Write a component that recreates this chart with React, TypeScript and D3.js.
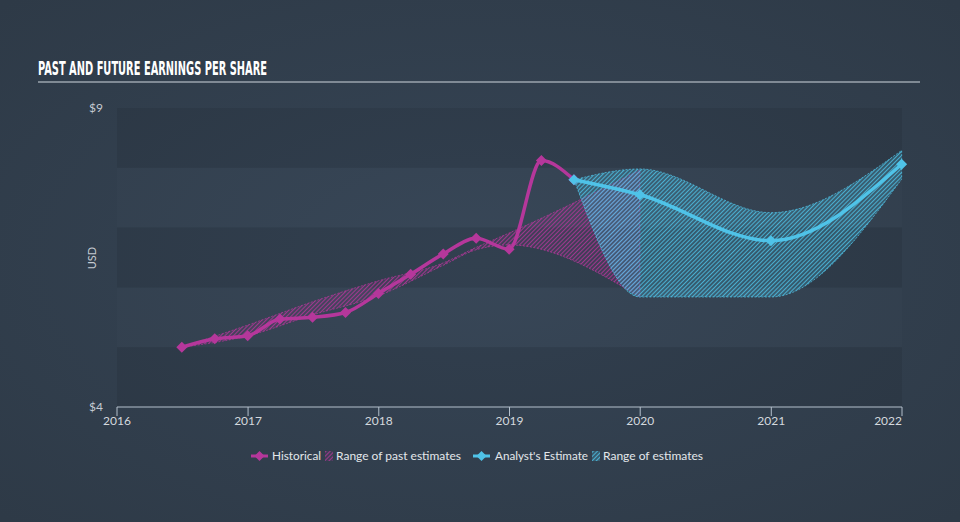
import React from "react";
import * as d3 from "d3";

const histDates = ["2016-06-30","2016-09-30","2016-12-31","2017-03-31","2017-06-30","2017-09-30","2017-12-31","2018-03-31","2018-06-30","2018-09-30","2018-12-31","2019-03-31","2019-06-30"];
const histValues = [5.0,5.14,5.19,5.47,5.5,5.58,5.9,6.22,6.56,6.82,6.64,8.12,7.8];

const pastRangeDates = ["2016-06-30","2016-12-31","2017-06-30","2017-12-31","2018-06-30","2018-09-30","2018-12-31","2019-12-31"];
const pastRangeLow = [5.0,5.19,5.54,5.86,6.37,6.63,6.71,5.84];
const pastRangeHigh = [5.0,5.37,5.76,6.11,6.41,6.67,6.91,7.96];

const estDates = ["2019-06-30","2019-12-31","2020-12-31","2021-12-31"];
const estValues = [7.8,7.55,6.78,8.06];
const estLow = [7.8,5.84,5.84,7.81];
const estHigh = [7.8,7.98,7.25,8.29];

const xTickYears = [2016,2017,2018,2019,2020,2021,2022];
const yTicks = [4,9];

const MAGENTA = "#b5379b";
const CYAN = "#4fc3e8";

const pd = (s: string) => new Date(s + "T00:00:00");

export default function App() {
  const x = d3.scaleTime().domain([new Date(2016,0,1), new Date(2022,0,1)]).range([117, 902]);
  const y = d3.scaleLinear().domain([4, 9]).range([407, 108]);

  const hist = histDates.map((d, i) => ({ d: pd(d), v: histValues[i] }));
  const past = pastRangeDates.map((d, i) => ({ d: pd(d), lo: pastRangeLow[i], hi: pastRangeHigh[i] }));
  const est = estDates.map((d, i) => ({ d: pd(d), v: estValues[i], lo: estLow[i], hi: estHigh[i] }));

  const line = d3.line<{ d: Date; v: number }>().x(p => x(p.d)).y(p => y(p.v)).curve(d3.curveMonotoneX);
  const area = d3.area<{ d: Date; lo: number; hi: number }>().x(p => x(p.d)).y0(p => y(p.lo)).y1(p => y(p.hi)).curve(d3.curveMonotoneX);

  const diamond = (cx: number, cy: number, r: number) => `M${cx},${cy - r}L${cx + r},${cy}L${cx},${cy + r}L${cx - r},${cy}Z`;

  const bands: number[][] = [];
  for (let v = 9; v > 4; v--) bands.push([v, v - 1]);

  return (
    <svg width={960} height={522} style={{ position: "absolute", left: 0, top: 0 }}>
      <defs>
        <radialGradient id="bg" cx="50%" cy="50%" r="70%">
          <stop offset="0%" stopColor="#364556" />
          <stop offset="100%" stopColor="#2e3a47" />
        </radialGradient>
        <pattern id="hatchM" patternUnits="userSpaceOnUse" width="3" height="3" patternTransform="rotate(45)">
          <rect x="0" y="0" width="3" height="3" fill={MAGENTA} fillOpacity="0.12" />
          <line x1="0.5" y1="0" x2="0.5" y2="3" stroke={MAGENTA} strokeWidth="1" strokeOpacity="0.8" />
        </pattern>
        <pattern id="hatchC" patternUnits="userSpaceOnUse" width="3" height="3" patternTransform="rotate(45)">
          <rect x="0" y="0" width="3" height="3" fill={CYAN} fillOpacity="0.22" />
          <line x1="0.5" y1="0" x2="0.5" y2="3" stroke={CYAN} strokeWidth="1" strokeOpacity="0.8" />
        </pattern>
      </defs>
      <rect x={0} y={0} width={960} height={522} fill="url(#bg)" />
      {bands.map((b, i) => (
        <rect key={i} x={117} y={y(b[0])} width={902 - 117} height={y(b[1]) - y(b[0])}
          fill={i % 2 === 0 ? "rgba(0,0,0,0.07)" : "rgba(255,255,255,0.01)"} />
      ))}
      <text x={38} y={75} fill="#ffffff" fontFamily="'DejaVu Sans Condensed', 'DejaVu Sans'" fontWeight="bold" fontSize={20}
        textLength={229} lengthAdjust="spacingAndGlyphs">PAST AND FUTURE EARNINGS PER SHARE</text>
      <line x1={38} x2={920} y1={82} y2={82} stroke="#9ba4ae" strokeWidth={1.5} />

      {yTicks.map(t => (
        <text key={t} x={103} y={y(t) + 4} textAnchor="end" fill="#c5cbd2" fontFamily="Lato, 'Open Sans', sans-serif" fontSize={12}>${t}</text>
      ))}
      <text transform={`translate(96,258) rotate(-90)`} textAnchor="middle" fill="#c5cbd2" fontFamily="Lato, 'Open Sans', sans-serif" fontSize={11}>USD</text>

      <line x1={117} x2={902} y1={407} y2={407} stroke="#b4c0cc" strokeWidth={1} />
      {xTickYears.map((yr, i) => {
        const xx = x(new Date(yr, 0, 1));
        const last = i === xTickYears.length - 1;
        return (
          <g key={yr}>
            <line x1={xx} x2={xx} y1={407} y2={416} stroke="#b4c0cc" strokeWidth={1} />
            <text x={xx} y={425} textAnchor={last ? "end" : "middle"} fill="#d4d9de"
              fontFamily="Lato, 'Open Sans', sans-serif" fontSize={12}>{yr}</text>
          </g>
        );
      })}

      <path d={area(past) || ""} fill="url(#hatchM)" stroke={MAGENTA} strokeWidth={0.8} strokeDasharray="2,1.5" strokeOpacity={0.9} />
      <path d={area(est) || ""} fill="url(#hatchC)" stroke={CYAN} strokeWidth={0.8} strokeDasharray="2,1.5" strokeOpacity={0.9} />

      <path d={line(hist) || ""} fill="none" stroke={MAGENTA} strokeWidth={3.5} />
      {hist.map((p, i) => (
        <path key={i} d={diamond(x(p.d), y(p.v), 5.5)} fill={MAGENTA} />
      ))}
      <path d={line(est) || ""} fill="none" stroke={CYAN} strokeWidth={3.5} />
      {est.map((p, i) => (
        <path key={i} d={diamond(x(p.d), y(p.v), 5.5)} fill={CYAN} />
      ))}

      <g fontFamily="Lato, 'Open Sans', sans-serif" fontSize={12} fill="#e3e7eb">
        <line x1={251} x2={268} y1={456} y2={456} stroke={MAGENTA} strokeWidth={3} />
        <path d={diamond(259.5, 456, 5)} fill={MAGENTA} />
        <text x={272} y={460} textLength={49} lengthAdjust="spacingAndGlyphs">Historical</text>
        <rect x={325} y={451} width={8} height={10} fill="url(#hatchM)" />
        <text x={336} y={460} textLength={125} lengthAdjust="spacingAndGlyphs">Range of past estimates</text>
        <line x1={473} x2={490} y1={456} y2={456} stroke={CYAN} strokeWidth={3} />
        <path d={diamond(481.5, 456, 5)} fill={CYAN} />
        <text x={495} y={460} textLength={93} lengthAdjust="spacingAndGlyphs">Analyst's Estimate</text>
        <rect x={592} y={451} width={8} height={10} fill="url(#hatchC)" />
        <text x={603} y={460} textLength={100} lengthAdjust="spacingAndGlyphs">Range of estimates</text>
      </g>
    </svg>
  );
}
